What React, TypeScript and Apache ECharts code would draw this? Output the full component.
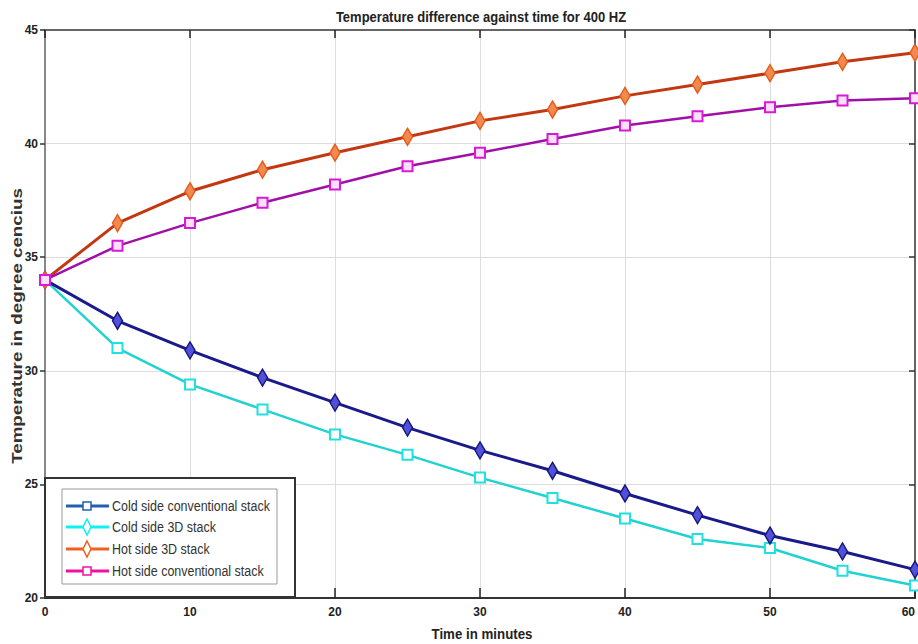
import React, { useEffect, useRef } from "react";
import * as echarts from "echarts";

const times = [0, 5, 10, 15, 20, 25, 30, 35, 40, 45, 50, 55, 60];
const hot3D = [34, 36.5, 37.9, 38.85, 39.6, 40.3, 41.0, 41.5, 42.1, 42.6, 43.1, 43.6, 44.0];
const hotConv = [34, 35.5, 36.5, 37.4, 38.2, 39.0, 39.6, 40.2, 40.8, 41.2, 41.6, 41.9, 42.0];
const coldConv = [34, 32.2, 30.9, 29.7, 28.6, 27.5, 26.5, 25.6, 24.6, 23.65, 22.75, 22.05, 21.25];
const cold3D = [34, 31.0, 29.4, 28.3, 27.2, 26.3, 25.3, 24.4, 23.5, 22.6, 22.2, 21.2, 20.55];
const legendNames = [
  "Cold side conventional stack",
  "Cold side 3D stack",
  "Hot side 3D stack",
  "Hot side conventional stack",
];
const titleText = "Temperature difference against time for 400 HZ";
const xName = "Time in minutes";
const yName = "Temperature in degree cencius";

const NARROW = "'Liberation Sans Narrow', 'Liberation Sans', Arial, sans-serif";
const WIDE = "'Liberation Sans', Arial, sans-serif";

function pairs(ys: number[]) {
  return times.map((t, i) => [t, ys[i]]);
}

export default function App() {
  const ref = useRef<HTMLDivElement>(null);
  useEffect(() => {
    if (!ref.current) return;
    const chart = echarts.init(ref.current, null, { renderer: "svg" });

    const legendStyles = [
      { line: "#2060b0", marker: "square", stroke: "#2060b0", fill: "#ffffff" },
      { line: "#10f0f0", marker: "diamond", stroke: "#10f0f0", fill: "#ffffff" },
      { line: "#f06020", marker: "diamond", stroke: "#f06020", fill: "#ffffff" },
      { line: "#f010a0", marker: "square", stroke: "#f010a0", fill: "#ffffff" },
    ];
    const rowY = [506, 527, 549, 571];
    const legendEls: any[] = [
      {
        type: "rect",
        shape: { x: 45, y: 478, width: 250, height: 119 },
        style: { fill: "#ffffff", stroke: "#333333", lineWidth: 2 },
        z: 100,
      },
      {
        type: "rect",
        shape: { x: 62, y: 489, width: 215, height: 95 },
        style: { fill: "#ffffff", stroke: "#999999", lineWidth: 1 },
        z: 101,
      },
    ];
    legendStyles.forEach((s, i) => {
      const y = rowY[i];
      legendEls.push({
        type: "line",
        shape: { x1: 66, y1: y, x2: 109, y2: y },
        style: { stroke: s.line, lineWidth: 3 },
        z: 102,
      });
      if (s.marker === "square") {
        legendEls.push({
          type: "rect",
          shape: { x: 83, y: y - 4, width: 8, height: 8 },
          style: { fill: s.fill, stroke: s.stroke, lineWidth: 1.5 },
          z: 103,
        });
      } else {
        legendEls.push({
          type: "polygon",
          shape: { points: [[87, y - 8], [91, y], [87, y + 8], [83, y]] },
          style: { fill: s.fill, stroke: s.stroke, lineWidth: 1.5 },
          z: 103,
        });
      }
      legendEls.push({
        type: "text",
        x: 112,
        y: y,
        scaleX: 0.89,
        style: {
          text: legendNames[i],
          fontFamily: NARROW,
          fontSize: 14,
          fill: "#333333",
          verticalAlign: "middle",
          align: "left",
        },
        z: 103,
      });
    });

    const option: any = {
      animation: false,
      backgroundColor: "#ffffff",
      grid: {
        left: 45,
        right: 3,
        top: 30,
        bottom: 46,
        containLabel: false,
        outerBoundsMode: "none",
      },
      xAxis: [
        {
          type: "value",
          min: 0,
          max: 60,
          interval: 10,
          axisLine: { show: true, onZero: false, lineStyle: { color: "#333333", width: 2 } },
          axisTick: { show: true, inside: true, length: 10, lineStyle: { color: "#222222", width: 1.5 } },
          axisLabel: {
            color: "#222222",
            fontFamily: NARROW,
            fontWeight: "bold",
            fontSize: 12,
            margin: 8,
            alignMaxLabel: "right",
          },
          splitLine: { show: true, lineStyle: { color: "#dddddd", width: 1 } },
        },
        {
          type: "value",
          position: "top",
          min: 0,
          max: 60,
          interval: 10,
          axisLine: { show: true, onZero: false, lineStyle: { color: "#666666", width: 2 } },
          axisTick: { show: true, inside: true, length: 8, lineStyle: { color: "#222222", width: 1.5 } },
          axisLabel: { show: false },
          splitLine: { show: false },
        },
      ],
      yAxis: [
        {
          type: "value",
          min: 20,
          max: 45,
          interval: 5,
          axisLine: { show: true, onZero: false, lineStyle: { color: "#888888", width: 2 } },
          axisTick: { show: true, inside: false, length: 5, lineStyle: { color: "#333333", width: 1.5 } },
          axisLabel: {
            color: "#222222",
            fontFamily: NARROW,
            fontWeight: "bold",
            fontSize: 12,
            margin: 7,
          },
          splitLine: { show: true, lineStyle: { color: "#dddddd", width: 1 } },
        },
        {
          type: "value",
          position: "right",
          min: 20,
          max: 45,
          interval: 5,
          axisLine: { show: true, onZero: false, lineStyle: { color: "#666666", width: 2 } },
          axisTick: { show: true, inside: true, length: 6, lineStyle: { color: "#333333", width: 1.5 } },
          axisLabel: { show: false },
          splitLine: { show: false },
        },
      ],
      series: [
        {
          name: legendNames[0],
          type: "line",
          data: pairs(coldConv),
          symbol: "diamond",
          symbolSize: [10, 17],
          lineStyle: { color: "#1a1a8a", width: 3 },
          itemStyle: { color: "#5050d8", borderColor: "#15157a", borderWidth: 1.5 },
          z: 3,
        },
        {
          name: legendNames[1],
          type: "line",
          data: pairs(cold3D),
          symbol: "rect",
          symbolSize: 10,
          lineStyle: { color: "#22d2d2", width: 2.5 },
          itemStyle: { color: "#ffffff", borderColor: "#20e0e0", borderWidth: 2 },
          z: 2,
        },
        {
          name: legendNames[2],
          type: "line",
          data: pairs(hot3D),
          symbol: "diamond",
          symbolSize: [10, 17],
          lineStyle: { color: "#c23810", width: 3 },
          itemStyle: { color: "#f08a50", borderColor: "#e85a18", borderWidth: 1.5 },
          z: 3,
        },
        {
          name: legendNames[3],
          type: "line",
          data: pairs(hotConv),
          symbol: "rect",
          symbolSize: 10,
          lineStyle: { color: "#a010a8", width: 2.5 },
          itemStyle: { color: "#fbe0fb", borderColor: "#d81ad8", borderWidth: 2 },
          z: 4,
        },
      ],
      graphic: [
        {
          type: "text",
          x: 481,
          y: 17,
          scaleX: 0.93,
          style: {
            text: titleText,
            fontFamily: NARROW,
            fontWeight: "bold",
            fontSize: 14,
            fill: "#222222",
            align: "center",
            verticalAlign: "middle",
          },
        },
        {
          type: "text",
          x: 482,
          y: 634,
          scaleX: 0.95,
          style: {
            text: xName,
            fontFamily: NARROW,
            fontWeight: "bold",
            fontSize: 14,
            fill: "#222222",
            align: "center",
            verticalAlign: "middle",
          },
        },
        {
          type: "text",
          x: 17,
          y: 326,
          rotation: Math.PI / 2,
          scaleX: 1.25,
          style: {
            text: yName,
            fontFamily: WIDE,
            fontWeight: "bold",
            fontSize: 15,
            fill: "#333333",
            align: "center",
            verticalAlign: "middle",
          },
        },
        ...legendEls,
      ],
    };
    chart.setOption(option);
    return () => chart.dispose();
  }, []);
  return (
    <div
      ref={ref}
      style={{ position: "fixed", left: 0, top: 0, width: 918, height: 644 }}
    />
  );
}
